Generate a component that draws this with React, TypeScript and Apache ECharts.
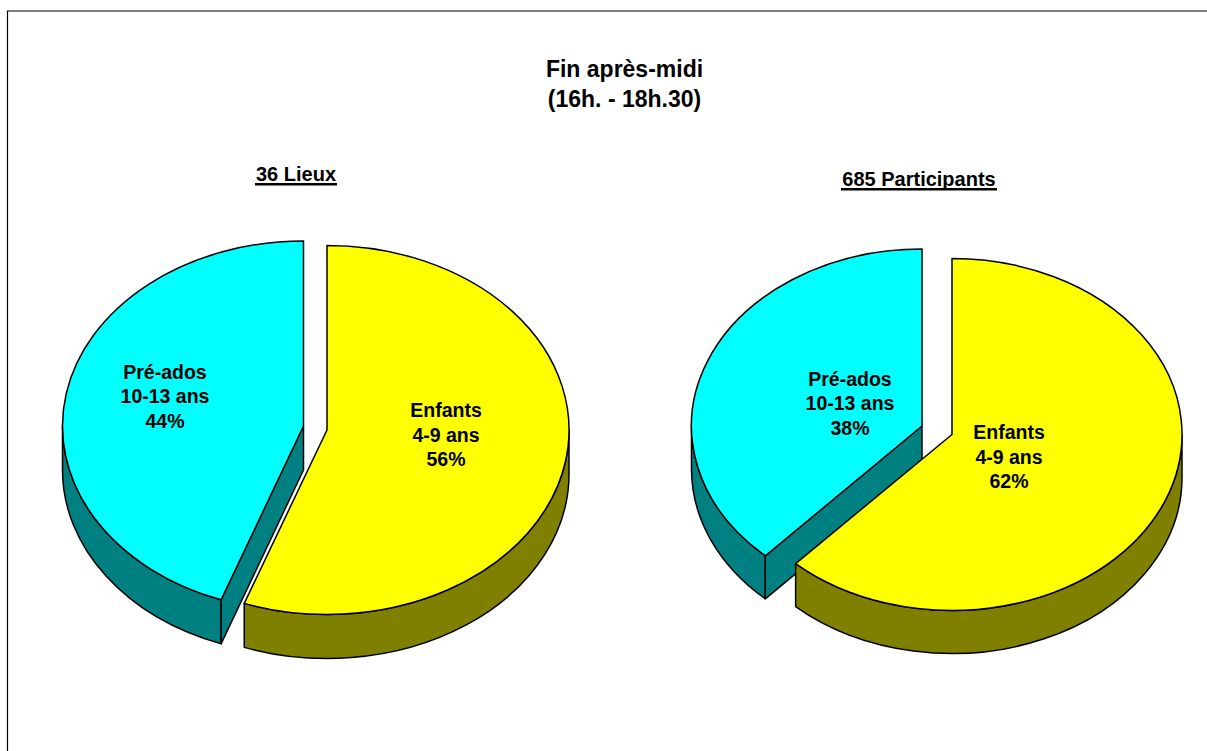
import React, { useEffect, useRef } from "react";
import * as echarts from "echarts";

const titleLines = ["Fin après-midi", "(16h. - 18h.30)"];
const pieTitles = ["36 Lieux", "685 Participants"];
// Draw order: the cyan slice first, the yellow one over it
const sliceNames = ["Pré-ados", "Enfants"];
const sliceAges = ["10-13 ans", "4-9 ans"];
const lieuxValues = [16, 20];
const participantsValues = [261, 424];

const FONT = '"Liberation Sans", Arial, sans-serif';
const topColors = ["#00ffff", "#ffff00"];
const wallColors = ["#008080", "#808000"];

const pieLayouts = [
  {
    depth: 44,
    slices: [
      { cx: 303.5, cy: 426, rx: 241, ry: 185, lx: 165, ly: 396 },
      { cx: 327, cy: 430, rx: 242, ry: 184.5, lx: 446, ly: 434.5 },
    ],
  },
  {
    depth: 43,
    slices: [
      { cx: 922, cy: 426, rx: 230.5, ry: 177, lx: 850, ly: 403 },
      { cx: 952, cy: 434.5, rx: 230, ry: 176, lx: 1009, ly: 456.5 },
    ],
  },
];

const rad = (d: number) => (d * Math.PI) / 180;

function makeRender(values: number[], layout: (typeof pieLayouts)[number]) {
  const total = values.reduce((a, b) => a + b, 0);
  return (params: any, api: any) => {
    const i = params.dataIndex;
    const value = api.value(0) as number;
    const s = layout.slices[i];
    const d = layout.depth;
    // Angles run clockwise from 12 o'clock. The last slice in the data starts at 0.
    const sweep = (value / total) * 360;
    const t0 = i === 1 ? 0 : 360 - sweep;
    const t1 = i === 1 ? sweep : 360;
    const px = (t: number) => s.cx + s.rx * Math.sin(rad(t));
    const py = (t: number) => s.cy - s.ry * Math.cos(rad(t));
    const arc = (to: number, sw: number, large: number, dy = 0) =>
      `A${s.rx} ${s.ry} 0 ${large} ${sw} ${px(to).toFixed(2)} ${(py(to) + dy).toFixed(2)}`;
    const lineStyle = { stroke: "#000", lineWidth: 1.5, lineJoin: "round" };
    const children: any[] = [];

    // Outer wall: the part of the rim on the lower half of the ellipse
    const a = Math.max(t0, 90);
    const b = Math.min(t1, 270);
    if (b > a) {
      const large = b - a > 180 ? 1 : 0;
      children.push({
        type: "path",
        shape: {
          pathData: `M${px(a)} ${py(a)}${arc(b, 1, large)}L${px(b)} ${py(b) + d}${arc(a, 0, large, d)}Z`,
        },
        style: { fill: wallColors[i], ...lineStyle },
      });
    }
    // Cut faces turned towards the viewer
    [
      { t: t0, show: Math.sin(rad(t0)) < -1e-6 },
      { t: t1, show: Math.sin(rad(t1)) > 1e-6 },
    ].forEach(({ t, show }) => {
      if (!show) return;
      children.push({
        type: "polygon",
        shape: {
          points: [
            [s.cx, s.cy],
            [px(t), py(t)],
            [px(t), py(t) + d],
            [s.cx, s.cy + d],
          ],
        },
        style: { fill: wallColors[i], ...lineStyle },
      });
    });
    // Top face
    children.push({
      type: "path",
      shape: {
        pathData: `M${s.cx} ${s.cy}L${px(t0)} ${py(t0)}${arc(t1 - 0.001, 1, sweep > 180 ? 1 : 0)}Z`,
      },
      style: { fill: topColors[i], ...lineStyle },
    });
    children.push({
      type: "text",
      style: {
        x: s.lx,
        y: s.ly,
        text: `${sliceNames[i]}\n${sliceAges[i]}\n${Math.round((value / total) * 100)}%`,
        fill: "#000",
        font: `bold 19.5px ${FONT}`,
        lineHeight: 24.5,
        align: "center",
        verticalAlign: "middle",
      },
    });
    return { type: "group", children };
  };
}

const seriesData = (values: number[]) =>
  values.map((v, i) => ({ name: sliceNames[i], value: [v] }));

export default function App() {
  const ref = useRef<HTMLDivElement>(null);
  useEffect(() => {
    const chart = echarts.init(ref.current!, null, { renderer: "svg" });
    chart.setOption({
      animation: false,
      backgroundColor: "#fff",
      title: [
        {
          text: titleLines.join("\n"),
          left: 624.5,
          top: 54,
          padding: 0,
          textAlign: "center",
          textStyle: { fontFamily: FONT, fontWeight: "bold", fontSize: 23, lineHeight: 30, color: "#000" },
        },
        {
          text: pieTitles[0],
          left: 296,
          top: 164,
          padding: 0,
          textAlign: "center",
          textStyle: { fontFamily: FONT, fontWeight: "bold", fontSize: 20, lineHeight: 20, color: "#000" },
        },
        {
          text: pieTitles[1],
          left: 919,
          top: 169,
          padding: 0,
          textAlign: "center",
          textStyle: { fontFamily: FONT, fontWeight: "bold", fontSize: 20, lineHeight: 20, color: "#000" },
        },
      ],
      graphic: [
        { type: "rect", shape: { x: 7.5, y: 11, width: 1300, height: 900 }, style: { fill: "none", stroke: "#000", lineWidth: 1.2 }, silent: true },
        { type: "rect", shape: { x: 255, y: 183, width: 82, height: 2.5 }, style: { fill: "#000" }, silent: true },
        { type: "rect", shape: { x: 841, y: 188, width: 156, height: 2.5 }, style: { fill: "#000" }, silent: true },
      ],
      series: [
        { type: "custom", coordinateSystem: "none", renderItem: makeRender(lieuxValues, pieLayouts[0]), data: seriesData(lieuxValues), silent: true },
        { type: "custom", coordinateSystem: "none", renderItem: makeRender(participantsValues, pieLayouts[1]), data: seriesData(participantsValues), silent: true },
      ],
    });
    return () => chart.dispose();
  }, []);
  return <div ref={ref} style={{ position: "fixed", left: 0, top: 0, width: 1207, height: 751 }} />;
}
